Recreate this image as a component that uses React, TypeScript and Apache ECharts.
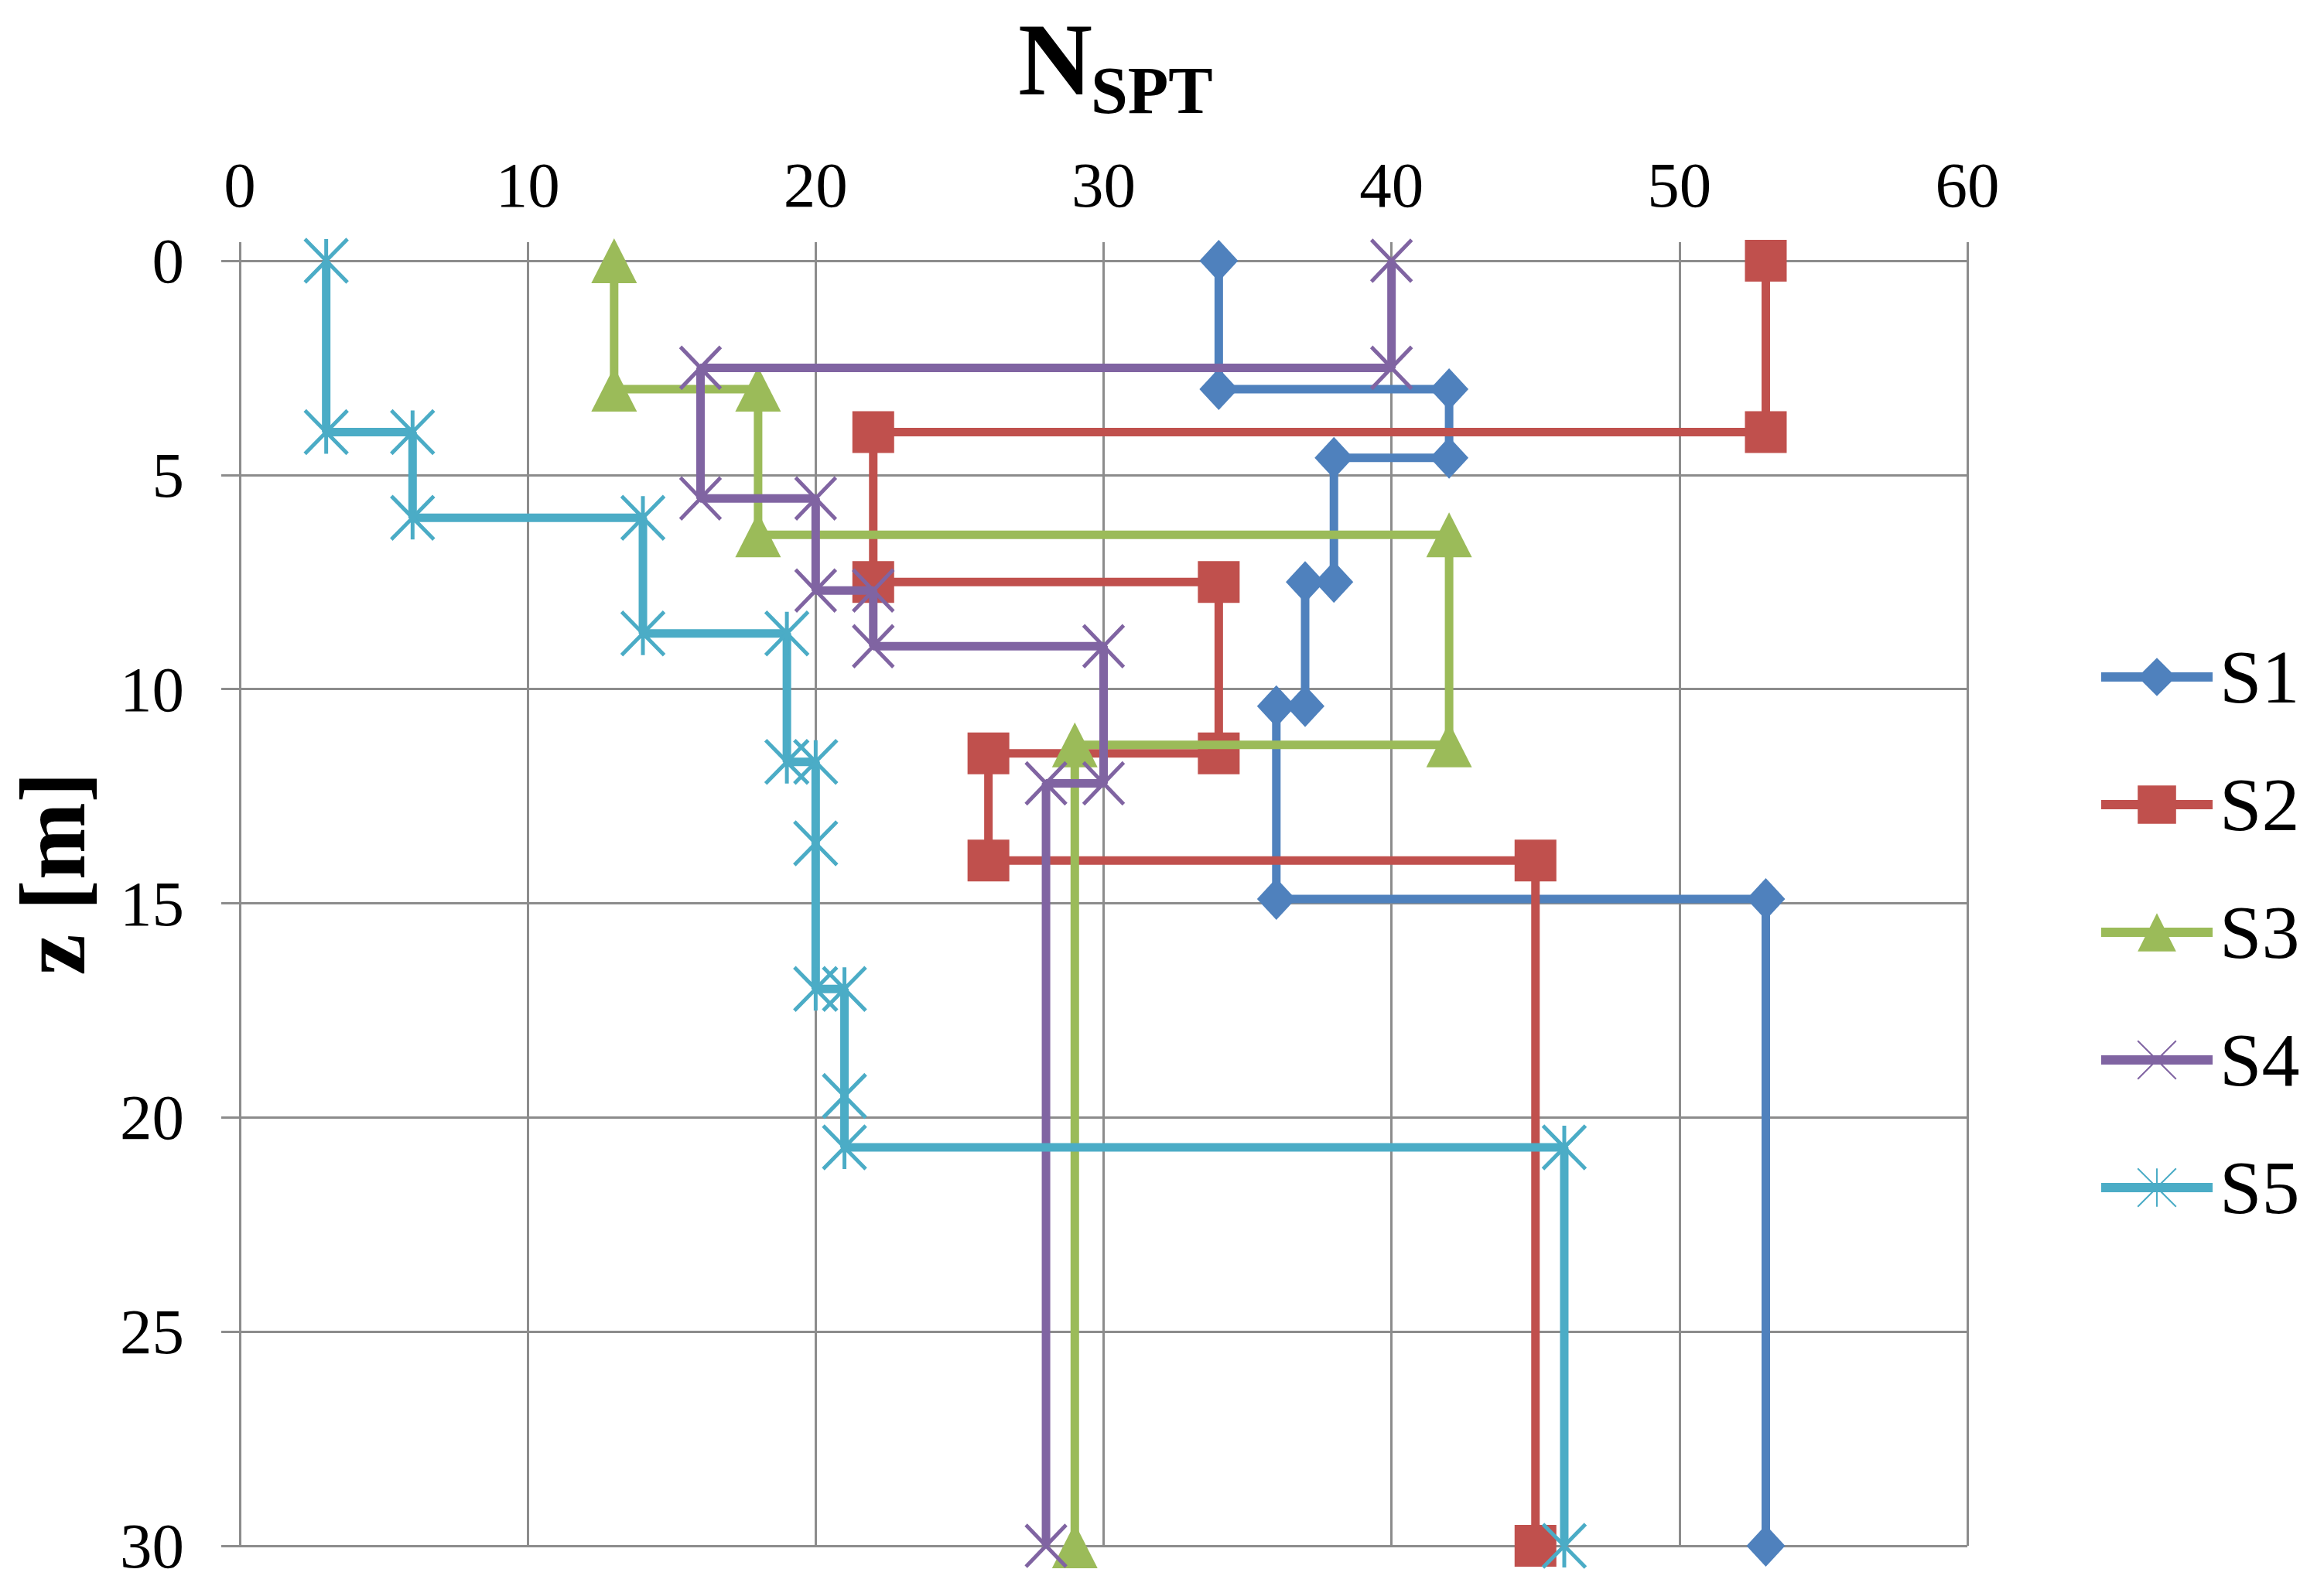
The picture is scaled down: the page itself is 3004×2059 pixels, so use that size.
import React, { useEffect, useRef } from "react";
import * as echarts from "echarts";

// ---- data (N_SPT vs depth z) ----
const seriesNames = ["S1", "S2", "S3", "S4", "S5"];
const seriesColors = ["#4F81BD", "#C0504D", "#9BBB59", "#8064A2", "#4BACC6"];

const s1N = [34, 34, 42, 42, 38, 38, 37, 37, 36, 36, 53, 53];
const s1Z = [0, 3, 3, 4.6, 4.6, 7.5, 7.5, 10.4, 10.4, 14.9, 14.9, 30];

const s2N = [53, 53, 22, 22, 34, 34, 26, 26, 45, 45];
const s2Z = [0, 4, 4, 7.5, 7.5, 11.5, 11.5, 14, 14, 30];

const s3N = [13, 13, 18, 18, 42, 42, 29, 29];
const s3Z = [0, 3, 3, 6.4, 6.4, 11.3, 11.3, 30];

const s4N = [40, 40, 16, 16, 20, 20, 22, 22, 30, 30, 28, 28];
const s4Z = [0, 2.5, 2.5, 5.55, 5.55, 7.7, 7.7, 9, 9, 12.2, 12.2, 30];

const s5N = [3, 3, 6, 6, 14, 14, 19, 19, 20, 20, 20, 21, 21, 21, 46, 46];
const s5Z = [0, 4, 4, 6, 6, 8.7, 8.7, 11.7, 11.7, 13.6, 17, 17, 19.5, 20.7, 20.7, 30];

const xTickMin = 0;
const xTickMax = 60;
const xTickStep = 10;
const zTickMin = 0;
const zTickMax = 30;
const zTickStep = 5;

const titleMain = "N";
const titleSub = "SPT";
const yTitle = "z [m]";

const FONT = '"Liberation Serif", "Times New Roman", serif';
const GRID_COLOR = "#8C8C8C";

const pairs = (n: number[], z: number[]) => n.map((v, i) => [v, z[i]]);

const seriesData = [
  pairs(s1N, s1Z),
  pairs(s2N, s2Z),
  pairs(s3N, s3Z),
  pairs(s4N, s4Z),
  pairs(s5N, s5Z),
];

const symbols = [
  { symbol: "diamond", size: [50, 54], stroke: 0 },
  { symbol: "rect", size: 54, stroke: 0 },
  { symbol: "triangle", size: [59, 58], stroke: 0 },
  { symbol: "path://M0,0L10,10M10,0L0,10", size: [52, 54], stroke: 5 },
  { symbol: "path://M0,0L10,10M10,0L0,10M5,0L5,10", size: [55, 56], stroke: 5 },
];

export default function App() {
  const ref = useRef<HTMLDivElement>(null);

  useEffect(() => {
    if (!ref.current) return;
    const chart = echarts.init(ref.current, null, { renderer: "svg" });

    const lineCommon = {
      axisLine: { show: true, lineStyle: { color: GRID_COLOR, width: 3 } },
      axisTick: { show: true, length: 24, lineStyle: { color: GRID_COLOR, width: 3 } },
      splitLine: { show: true, lineStyle: { color: GRID_COLOR, width: 3 } },
    };
    const labelCommon = { fontSize: 83, fontFamily: FONT, color: "#000" };

    const option: any = {
      animation: false,
      backgroundColor: "#ffffff",
      grid: { left: 310, top: 337, width: 2233, height: 1661, containLabel: false },
      xAxis: {
        type: "value",
        position: "top",
        min: xTickMin,
        max: xTickMax,
        interval: xTickStep,
        ...lineCommon,
        axisLabel: { ...labelCommon, margin: 57 },
      },
      yAxis: {
        type: "value",
        inverse: true,
        min: zTickMin,
        max: zTickMax,
        interval: zTickStep,
        ...lineCommon,
        axisLabel: { ...labelCommon, margin: 72 },
      },
      legend: {
        show: true,
        orient: "vertical",
        left: 2705,
        top: 821,
        itemWidth: 144,
        itemHeight: 62,
        itemGap: 67,
        data: seriesNames,
        lineStyle: { width: 12 },
        textStyle: { fontSize: 98, fontFamily: FONT, color: "#000", padding: [0, 0, 0, 4] },
      },
      graphic: [
        {
          type: "text",
          x: 1316,
          y: 77,
          style: {
            text: titleMain,
            font: `bold 133px ${FONT}`,
            fill: "#000",
            align: "left",
            verticalAlign: "middle",
          },
        },
        {
          type: "text",
          x: 1410,
          y: 117,
          style: {
            text: titleSub,
            font: `bold 86px ${FONT}`,
            fill: "#000",
            align: "left",
            verticalAlign: "middle",
          },
        },
        {
          type: "text",
          x: 68,
          y: 1129,
          rotation: Math.PI / 2,
          style: {
            text: yTitle,
            font: `bold 120px ${FONT}`,
            fill: "#000",
            align: "center",
            verticalAlign: "middle",
          },
        },
      ],
      series: seriesNames.map((name, i) => ({
        name,
        type: "line",
        data: seriesData[i],
        color: seriesColors[i],
        symbol: symbols[i].symbol,
        symbolSize: symbols[i].size,
        showAllSymbol: true,
        clip: false,
        lineStyle: { color: seriesColors[i], width: 11 },
        itemStyle: {
          color: seriesColors[i],
          borderColor: seriesColors[i],
          borderWidth: symbols[i].stroke,
        },
        emphasis: { disabled: true },
        z: 2 + i,
      })),
    };

    chart.setOption(option);
    return () => chart.dispose();
  }, []);

  return (
    <div
      ref={ref}
      style={{ position: "absolute", left: 0, top: 0, width: 3004, height: 2059, background: "#fff" }}
    />
  );
}
